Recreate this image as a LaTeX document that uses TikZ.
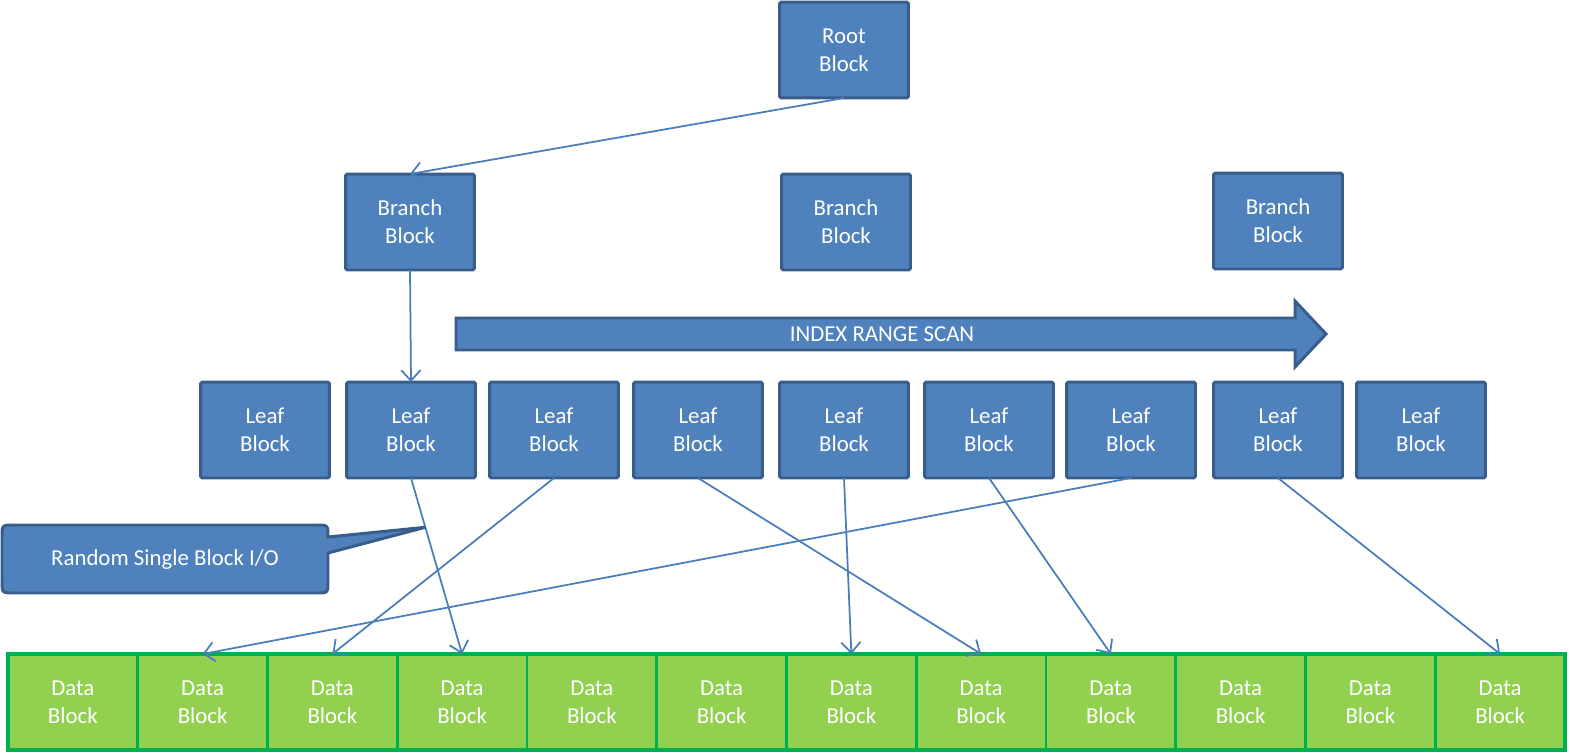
\documentclass[tikz,border=0pt]{standalone}
\usepackage{fontspec}
\setmainfont{Carlito}
\usetikzlibrary{arrows.meta,calc}
\definecolor{bfill}{HTML}{4F81BD}
\definecolor{bline}{HTML}{385D8A}
\definecolor{gfill}{HTML}{92D050}
\definecolor{gline}{HTML}{00B050}
\definecolor{conncol}{HTML}{4A7EBB}
\begin{document}
\begin{tikzpicture}[x=0.02cm,y=-0.02cm,
  lbl/.style={text=white,align=center,font=\fontsize{13}{16}\selectfont},
  blk/.style={lbl,draw=bline,fill=bfill,line width=1.7pt,rounded corners=1pt,minimum width=2.58cm,minimum height=1.92cm,inner sep=0pt,outer sep=0pt},
  dblk/.style={lbl,draw=gline,fill=gfill,line width=1.6pt,minimum width=2.595cm,minimum height=1.92cm,inner sep=0pt,outer sep=0pt},
  conn/.style={draw=conncol,line width=1pt,-{Straight Barb[length=6pt,width=11pt]}},
  shapefill/.style={draw=bline,fill=bfill,line width=1.7pt}]
\useasboundingbox (0,0) rectangle (1570,754);
% root and branches
\node[blk] (root) at (844,50) {Root\\Block};
\node[blk] (b1) at (410,222) {Branch\\Block};
\node[blk] (b2) at (846,222) {Branch\\Block};
\node[blk] (b3) at (1278,221) {Branch\\Block};
% leaves
\foreach \x [count=\i] in {265,411,554,698,844,989,1131,1278,1421}
  \node[blk] (l\i) at (\x,430) {Leaf\\Block};
% data blocks
\foreach \i in {1,...,12}
  \node[dblk] (d\i) at ({8+129.75*(\i-0.5)},702) {Data\\Block};
\draw[gline,line width=2.8pt] (d1.north west) rectangle (d12.south east);
% index range scan arrow
\draw[shapefill,line join=miter] (456,318) -- (1295,318) -- (1295,301) -- (1326,334) -- (1295,367) -- (1295,350) -- (456,350) -- cycle;
\node[lbl] (scan) at (882,334) {INDEX RANGE SCAN};
% connectors
\draw[conn] (root.south) -- (b1.north);
\draw[conn] (b1.south) -- (l2.north);
\draw[conn] (l2.south) -- (d4.north);
\draw[conn] (l3.south) -- (d3.north);
\draw[conn] (l4.south) -- (d8.north);
\draw[conn] (l5.south) -- (d7.north);
\draw[conn] (l6.south) -- (d9.north);
\draw[conn] (l7.south) -- (d2.north);
\draw[conn] (l8.south) -- (d12.north);
% callout
\coordinate (tip) at ($(l2.south)!0.28!(d4.north)$);
\draw[shapefill,line join=miter] (2,545) -- (2,537) .. controls (2,525) .. (14,525) -- (316,525) .. controls (328,525) .. (328,537) -- (tip) -- (328,553) -- (328,581) .. controls (328,593) .. (316,593) -- (14,593) .. controls (2,593) .. (2,581) -- cycle;
\node[lbl] (callout) at (165,560) {Random Single Block I/O};
\end{tikzpicture}
\end{document}
